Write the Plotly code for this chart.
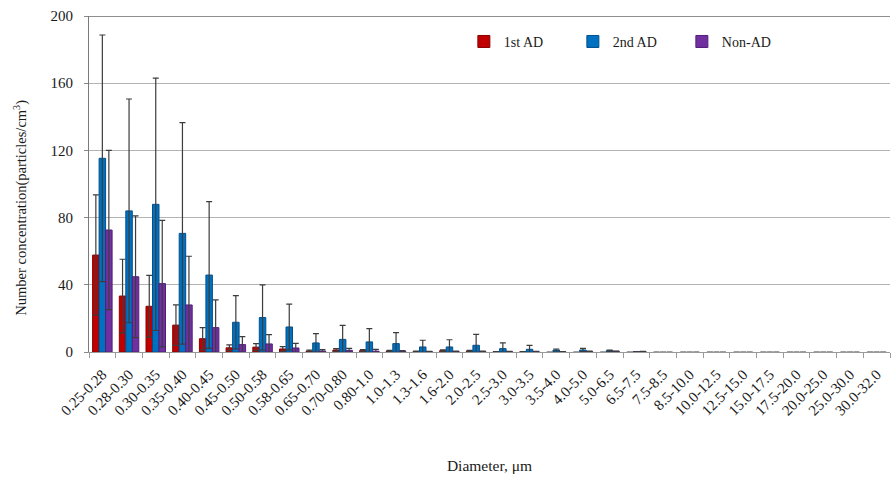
import plotly.graph_objects as go

# Particle size bins (μm)
diameters = [
    "0.25-0.28", "0.28-0.30", "0.30-0.35", "0.35-0.40", "0.40-0.45",
    "0.45-0.50", "0.50-0.58", "0.58-0.65", "0.65-0.70", "0.70-0.80",
    "0.80-1.0", "1.0-1.3", "1.3-1.6", "1.6-2.0", "2.0-2.5",
    "2.5-3.0", "3.0-3.5", "3.5-4.0", "4.0-5.0", "5.0-6.5",
    "6.5-7.5", "7.5-8.5", "8.5-10.0", "10.0-12.5", "12.5-15.0",
    "15.0-17.5", "17.5-20.0", "20.0-25.0", "25.0-30.0", "30.0-32.0",
]

# Mean number concentration (particles/cm3) and standard deviation per bin
first_ad = [57.7, 33.3, 27.2, 16.0, 7.9, 2.5, 2.9, 1.8, 0.6, 1.2,
            0.8, 0.6, 0.3, 0.8, 0.6, 0.2, 0.2, 0.0, 0.0, 0.0,
            0.0, 0.0, 0.0, 0.0, 0.0, 0.0, 0.0, 0.0, 0.0, 0.0]
first_ad_sd = [35.8, 21.9, 18.4, 12.0, 6.6, 1.7, 2.1, 1.4, 0.5, 0.8,
               0.6, 0.4, 0.2, 0.5, 0.4, 0.1, 0.1, 0.0, 0.0, 0.0,
               0.0, 0.0, 0.0, 0.0, 0.0, 0.0, 0.0, 0.0, 0.0, 0.0]

second_ad = [115.3, 84.0, 87.9, 70.6, 45.8, 17.7, 20.5, 14.9, 5.4, 7.5,
             6.0, 5.0, 3.0, 3.0, 4.0, 2.0, 1.6, 1.2, 1.2, 0.8,
             0.2, 0.0, 0.0, 0.0, 0.0, 0.0, 0.0, 0.0, 0.0, 0.0]
second_ad_sd = [73.4, 66.6, 75.1, 65.9, 43.7, 15.8, 19.4, 13.6, 5.5, 8.4,
                7.9, 6.5, 4.0, 4.3, 6.5, 3.4, 2.4, 0.6, 1.0, 0.3,
                0.1, 0.0, 0.0, 0.0, 0.0, 0.0, 0.0, 0.0, 0.0, 0.0]

non_ad = [72.6, 44.8, 40.7, 28.0, 14.5, 4.4, 4.8, 2.4, 0.6, 1.0,
          0.5, 0.4, 0.2, 0.3, 0.3, 0.2, 0.2, 0.1, 0.3, 0.4,
          0.3, 0.0, 0.0, 0.0, 0.0, 0.0, 0.0, 0.0, 0.0, 0.0]
non_ad_sd = [47.4, 36.2, 37.7, 29.0, 16.5, 4.7, 5.5, 2.7, 0.8, 1.2,
             1.1, 0.5, 0.2, 0.3, 0.3, 0.2, 0.2, 0.1, 0.2, 0.2,
             0.1, 0.0, 0.0, 0.0, 0.0, 0.0, 0.0, 0.0, 0.0, 0.0]

y_ticks = [0, 40, 80, 120, 160, 200]

FONT = "Liberation Serif, Times New Roman, serif"
ERR_COLOR = "#3c3c3c"

series = [
    ("1st AD", first_ad, first_ad_sd, "#C00000", "#8a0000"),
    ("2nd AD", second_ad, second_ad_sd, "#0070C0", "#00508c"),
    ("Non-AD", non_ad, non_ad_sd, "#7030A0", "#521f7a"),
]

fig = go.Figure()
for name, vals, sd, fill, edge in series:
    # empty bins get neither an outline nor an error cap
    edge_widths = [1 if v > 0 else 0 for v in vals]
    err = [s if s > 0 else None for s in sd]
    fig.add_trace(go.Bar(
        name=name,
        x=diameters,
        y=vals,
        marker=dict(color=fill, line=dict(color=edge, width=edge_widths)),
        error_y=dict(type="data", array=err, symmetric=True,
                     color=ERR_COLOR, thickness=1.2, width=3),
    ))

fig.update_layout(
    width=891,
    height=479,
    margin=dict(l=89, r=1, t=16, b=127),
    paper_bgcolor="white",
    plot_bgcolor="white",
    barmode="group",
    bargap=0.27,
    bargroupgap=0,
    font=dict(family=FONT, size=14, color="#1a1a1a"),
    legend=dict(
        orientation="h",
        x=0.468, y=0.923,
        xanchor="left", yanchor="middle",
        font=dict(family=FONT, size=14, color="#1a1a1a"),
        entrywidth=64,
        itemwidth=30,
        bgcolor="rgba(0,0,0,0)",
    ),
    xaxis=dict(
        type="category",
        tickangle=-45,
        tickfont=dict(family=FONT, size=15, color="#1a1a1a"),
        ticks="outside",
        tickson="boundaries",
        ticklen=5,
        tickcolor="#9a9a9a",
        ticklabelstandoff=7,
        showline=True,
        linecolor="#9a9a9a",
        linewidth=1,
        showgrid=False,
        automargin=False,
        title=dict(text="Diameter, μm", font=dict(family=FONT, size=15.5),
                   standoff=42),
    ),
    yaxis=dict(
        range=[0, 200],
        tickvals=y_ticks,
        ticks="outside",
        ticklen=4,
        tickcolor="#8a8a8a",
        ticklabelstandoff=8,
        tickfont=dict(family=FONT, size=15, color="#1a1a1a"),
        showline=True,
        linecolor="#7a7a7a",
        linewidth=1.2,
        showgrid=True,
        gridcolor="#b4b4b4",
        gridwidth=1,
        zeroline=False,
        automargin=False,
    ),
    annotations=[dict(
        text="Number concentration(particles/cm<sup>3</sup>)",
        xref="paper", yref="paper",
        x=-0.086, y=0.43,
        xanchor="center", yanchor="middle",
        textangle=-90,
        showarrow=False,
        font=dict(family=FONT, size=14.5, color="#1a1a1a"),
    )],
    shapes=[dict(
        type="line", xref="paper", yref="y",
        x0=0, x1=1, y0=200, y1=200,
        line=dict(color="#6a6a6a", width=1.3),
    )],
)

fig.write_html("out.html")
